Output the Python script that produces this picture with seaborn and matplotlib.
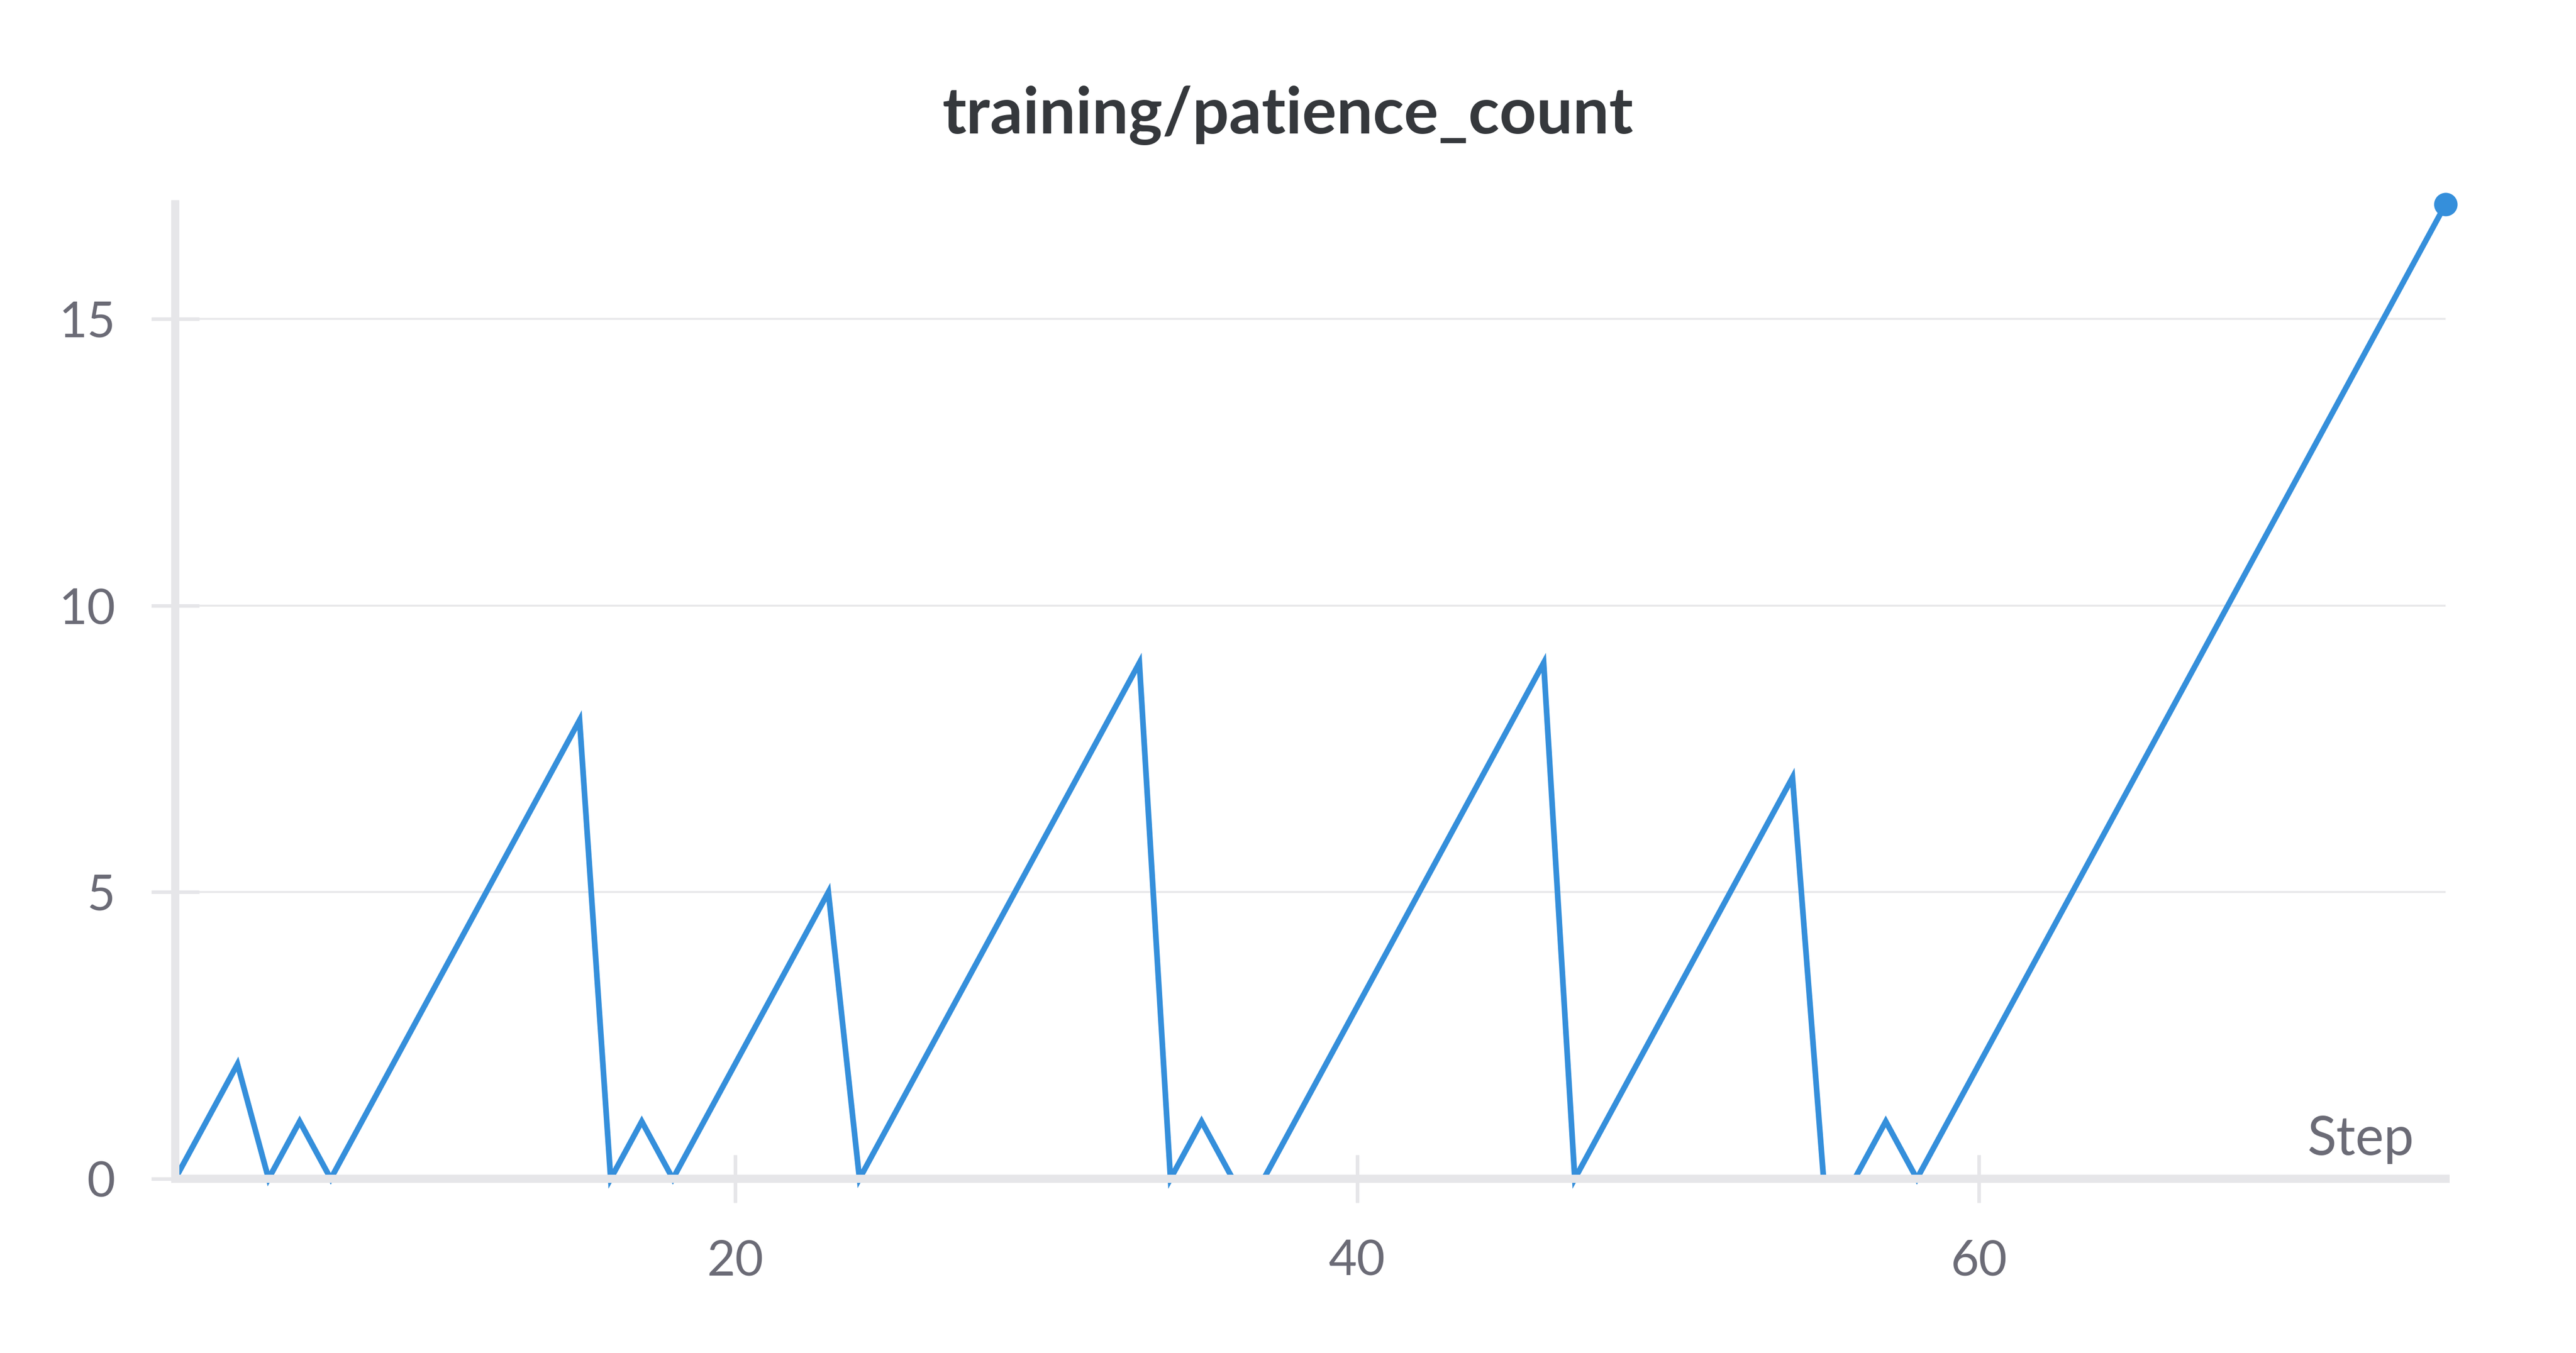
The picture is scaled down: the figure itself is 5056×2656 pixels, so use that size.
"""
training/patience_count 曲线 (wandb 风格)
"""
import matplotlib
matplotlib.use("Agg")
import matplotlib.pyplot as plt
import pandas as pd
import seaborn as sns

# 数据
steps = [2, 3, 4, 5, 6, 7, 8, 9, 10, 11, 12, 13, 14, 15,
         16, 17, 18, 19, 20, 21, 22, 23,
         24, 25, 26, 27, 28, 29, 30, 31, 32, 33,
         34, 35, 36, 37, 38, 39, 40, 41, 42, 43, 44, 45, 46,
         47, 48, 49, 50, 51, 52, 53, 54,
         55, 56, 57, 58,
         59, 60, 61, 62, 63, 64, 65, 66, 67, 68, 69, 70, 71, 72, 73, 74, 75]
patience = [0, 1, 2, 0, 1, 0, 1, 2, 3, 4, 5, 6, 7, 8,
            0, 1, 0, 1, 2, 3, 4, 5,
            0, 1, 2, 3, 4, 5, 6, 7, 8, 9,
            0, 1, 0, 0, 1, 2, 3, 4, 5, 6, 7, 8, 9,
            0, 1, 2, 3, 4, 5, 6, 7,
            0, 0, 1, 0,
            1, 2, 3, 4, 5, 6, 7, 8, 9, 10, 11, 12, 13, 14, 15, 16, 17]
x_ticks = [20, 40, 60]
y_ticks = [0, 5, 10, 15]
title = "training/patience_count"
x_label = "Step"

LINE_COLOR = "#358fdb"
AXIS_COLOR = "#e6e6e9"
GRID_COLOR = "#e9e9eb"
LABEL_COLOR = "#6b6b76"
TITLE_COLOR = "#35383c"

sns.set_theme(style="white")
plt.rcParams["font.family"] = ["Lato", "DejaVu Sans"]

df = pd.DataFrame({"step": steps, "value": patience})

W, H = 5056, 2656
fig = plt.figure(figsize=(W / 100, H / 100), dpi=100)
left, right, top, bottom = 344, 4800, 401, 2314
ax = fig.add_axes([left / W, 1 - bottom / H, (right - left) / W, (bottom - top) / H])

sns.lineplot(data=df, x="step", y="value", ax=ax, color=LINE_COLOR,
             linewidth=8, solid_joinstyle="miter", clip_on=False, zorder=2)
sns.scatterplot(x=[steps[-1]], y=[patience[-1]], ax=ax, color=LINE_COLOR,
                s=1100, linewidth=0, clip_on=False, zorder=3)

ax.set_xlim(steps[0], steps[-1])
ax.set_ylim(0, max(patience))
ax.set_xticks(x_ticks)
ax.set_yticks(y_ticks)
ax.set_xlabel("")
ax.set_ylabel("")

for side in ["top", "right"]:
    ax.spines[side].set_visible(False)
for side in ["left", "bottom"]:
    ax.spines[side].set_color(AXIS_COLOR)
    ax.spines[side].set_linewidth(11.5)
    ax.spines[side].set_zorder(2.5)

ax.yaxis.grid(True, color=GRID_COLOR, linewidth=2.9)
ax.xaxis.grid(False)
ax.set_axisbelow(True)

ax.tick_params(axis="both", direction="inout", length=68, width=5,
               color=AXIS_COLOR, labelsize=69, labelcolor=LABEL_COLOR, pad=51,
               bottom=True, left=True)

ax.text(0.986, 0.0246, x_label, transform=ax.transAxes, ha="right",
        va="baseline", fontsize=76, color=LABEL_COLOR)

fig.text(0.5, 1 - 262 / H, title, ha="center", va="baseline",
         fontsize=91, fontweight="bold", color=TITLE_COLOR)

fig.savefig("out.png", dpi=100, facecolor="white")
plt.close(fig)
